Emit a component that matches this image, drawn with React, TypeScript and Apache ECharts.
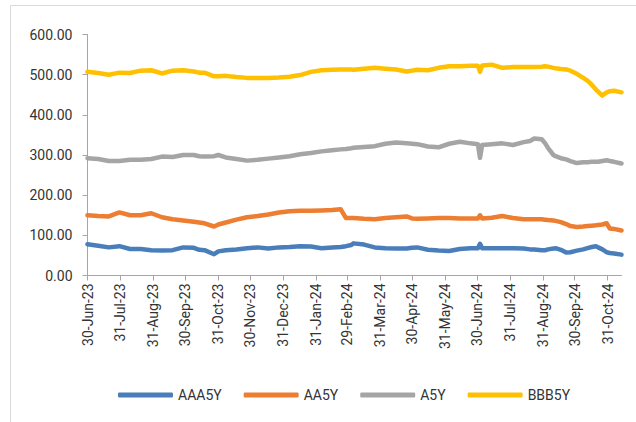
import React, { useEffect, useRef } from "react";
import * as echarts from "echarts";

const START = "30-Jun-23";
const seriesNames = ["AAA5Y", "AA5Y", "A5Y", "BBB5Y"];
const seriesColors = ["#4A7EBB", "#ED7D31", "#A5A5A5", "#FFC000"];

const tickLabels = [
  "30-Jun-23", "31-Jul-23", "31-Aug-23", "30-Sep-23", "31-Oct-23", "30-Nov-23",
  "31-Dec-23", "31-Jan-24", "29-Feb-24", "31-Mar-24", "30-Apr-24", "31-May-24",
  "30-Jun-24", "31-Jul-24", "31-Aug-24", "30-Sep-24", "31-Oct-24",
];

// days elapsed since 30-Jun-23
const dayOffsets = [
  0, 10, 20, 30, 40, 50, 60, 70, 80, 90,
  100, 105, 110, 119, 123, 130, 140, 150, 160, 170,
  180, 190, 200, 210, 220, 230, 238, 243, 248, 250,
  260, 270, 280, 290, 300, 305, 310, 320, 330, 340,
  350, 360, 367, 369, 371, 380, 390, 400, 410, 416,
  420, 427, 430, 433, 438, 440, 445, 450, 454, 460,
  466, 470, 474, 478, 480, 484, 488, 491, 495, 502,
];

const aaa5y = [
  78, 74, 70, 73, 66, 66, 63, 62, 63, 70,
  69, 64, 63, 53, 60, 63, 65, 68, 70, 67,
  70, 71, 73, 72, 68, 70, 71, 73, 76, 80,
  77, 70, 68, 67, 67, 69, 70, 64, 62, 61,
  66, 68, 68, 79, 68, 68, 68, 68, 67, 65,
  65, 63, 63, 65, 67, 68, 64, 57, 58, 62,
  65, 68, 71, 73, 70, 65, 58, 56, 55, 52,
];

const aa5y = [
  150, 148, 147, 157, 150, 150, 155, 145, 140, 137,
  134, 132, 130, 122, 127, 132, 139, 145, 148, 152,
  157, 160, 161, 161, 162, 163, 165, 143, 143, 143,
  141, 140, 143, 145, 147, 142, 141, 142, 143, 143,
  142, 142, 142, 150, 142, 144, 148, 143, 140, 140,
  140, 140, 139, 138, 137, 136, 133, 128, 123, 121,
  122, 123, 124, 125, 126, 127, 130, 117, 116, 112,
];

const a5y = [
  292, 290, 285, 285, 288, 288, 290, 296, 295, 300,
  300, 297, 296, 297, 300, 294, 290, 286, 288, 291,
  294, 297, 302, 305, 309, 312, 314, 315, 317, 318,
  320, 322, 328, 331, 329, 328, 327, 321, 319, 328,
  333, 329, 327, 293, 325, 327, 329, 325, 332, 335,
  341, 339, 330, 317, 300, 297, 292, 289, 285, 280,
  282, 282, 283, 283, 283, 285, 287, 285, 283, 279,
];

const bbb5y = [
  507, 504, 500, 505, 504, 510, 511, 503, 510, 511,
  508, 505, 505, 496, 496, 497, 494, 492, 492, 492,
  493, 495, 499, 507, 511, 512, 513, 513, 513, 512,
  515, 517, 515, 513, 508, 510, 512, 511, 517, 521,
  521, 522, 522, 507, 523, 525, 517, 519, 519, 519,
  519, 520, 521, 520, 517, 516, 514, 513, 510, 502,
  492, 485, 475, 463, 458, 448, 456, 459, 460, 456,
];

const yTicks = [0, 100, 200, 300, 400, 500, 600];

const MONTHS = ["Jan", "Feb", "Mar", "Apr", "May", "Jun", "Jul", "Aug", "Sep", "Oct", "Nov", "Dec"];
const DAY = 86400000;
function parseLabel(s: string): number {
  const [dd, mon, yy] = s.split("-");
  return Date.UTC(2000 + Number(yy), MONTHS.indexOf(mon), Number(dd));
}

export default function App() {
  const ref = useRef<HTMLDivElement>(null);
  useEffect(() => {
    if (!ref.current) return;
    const chart = echarts.init(ref.current, undefined, { renderer: "svg" });
    const start = parseLabel(START);
    const ticks = tickLabels.map(parseLabel);
    const xs = dayOffsets.map((d) => start + d * DAY);
    const allValues = [aaa5y, aa5y, a5y, bbb5y];
    const font = "Roboto, 'Noto Sans', sans-serif";
    const textColor = "#333333";
    const axisColor = "#A6A6A6";

    chart.setOption({
      animation: false,
      backgroundColor: "#ffffff",
      graphic: [
        {
          type: "rect",
          shape: { x: 10.5, y: 5.5, width: 700, height: 500 },
          style: { fill: "none", stroke: "#D9D9D9", lineWidth: 1 },
          silent: true,
        },
      ],
      grid: { left: 87.5, right: 14.5, top: 34.5, bottom: 146.5, containLabel: false },
      legend: {
        data: seriesNames,
        left: 113,
        top: 383,
        icon: "roundRect",
        itemWidth: 55,
        itemHeight: 5,
        itemGap: 22,
        textStyle: { fontSize: 14, color: textColor, fontFamily: font },
      },
      xAxis: {
        type: "value",
        min: xs[0],
        max: xs[xs.length - 1],
        splitLine: { show: false },
        axisLine: { show: true, lineStyle: { color: axisColor, width: 1 } },
        axisTick: {
          show: true,
          customValues: ticks,
          length: 5,
          lineStyle: { color: axisColor },
        },
        axisLabel: {
          customValues: ticks,
          rotate: 90,
          margin: 8,
          fontSize: 14,
          color: textColor,
          fontFamily: font,
          formatter: (v: number) => {
            const i = ticks.findIndex((t) => Math.abs(t - v) < DAY / 2);
            return i >= 0 ? tickLabels[i] : "";
          },
        },
      },
      yAxis: {
        type: "value",
        min: yTicks[0],
        max: yTicks[yTicks.length - 1],
        interval: 100,
        splitLine: { show: false },
        axisLine: { show: true, lineStyle: { color: axisColor, width: 1 } },
        axisTick: { show: true, length: 5, lineStyle: { color: axisColor } },
        axisLabel: {
          fontSize: 14,
          color: textColor,
          fontFamily: font,
          margin: 15,
          formatter: (v: number) => v.toFixed(2),
        },
      },
      series: seriesNames.map((name, k) => ({
        name,
        type: "line",
        showSymbol: false,
        symbol: "none",
        color: seriesColors[k],
        lineStyle: { width: 4.5, color: seriesColors[k], cap: "round", join: "round" },
        data: xs.map((x, i) => [x, allValues[k][i]]),
      })),
    });
    return () => chart.dispose();
  }, []);
  return (
    <div
      ref={ref}
      style={{ position: "absolute", left: 0, top: 0, width: 636, height: 422 }}
    />
  );
}
